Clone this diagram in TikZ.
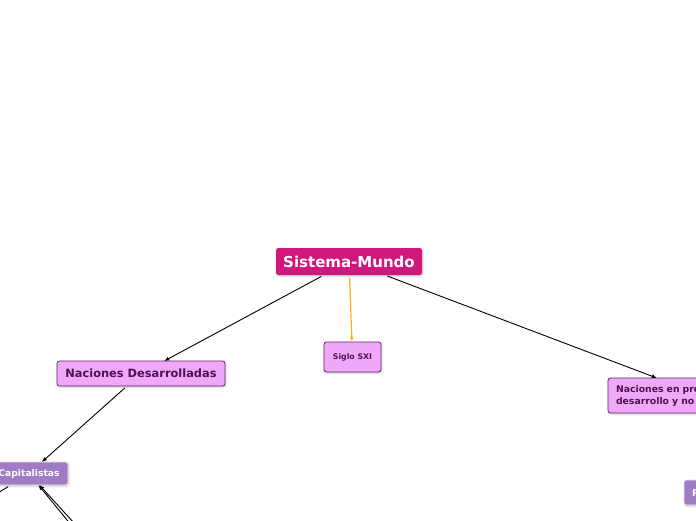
\documentclass[tikz,border=0pt]{standalone}
\usepackage{fontspec}
\setmainfont{DejaVu Sans}
\usetikzlibrary{arrows.meta,shadows.blur,positioning}
\definecolor{magentaSM}{RGB}{208,24,124}
\definecolor{rosaNodo}{RGB}{240,168,250}
\definecolor{bordeNodo}{RGB}{104,36,104}
\definecolor{textoNodo}{RGB}{78,18,78}
\definecolor{moradoNodo}{RGB}{160,124,196}
\definecolor{naranjaLinea}{RGB}{250,180,20}
\tikzset{
  caja/.style={rounded corners=2.5pt,outer sep=0pt,inner sep=0pt,
    blur shadow={shadow xshift=0.8pt,shadow yshift=-1pt,shadow blur steps=3,shadow opacity=25}},
  raiz/.style={caja,fill=magentaSM,text=white,font=\bfseries\fontsize{15}{17}\selectfont,
    minimum width=146pt,minimum height=27pt},
  rama/.style={caja,fill=rosaNodo,draw=bordeNodo,line width=0.8pt,text=textoNodo},
  hoja/.style={caja,fill=moradoNodo,draw=white!85!moradoNodo,line width=0.6pt,text=white,
    font=\bfseries\fontsize{9.2}{11}\selectfont,minimum height=23pt},
  flecha/.style={line width=0.9pt,-{Latex[length=5pt,width=4pt]},shorten <=3pt}
}
\begin{document}
\begin{tikzpicture}[x=1pt,y=-1pt]
  \path[use as bounding box,clip] (0,0) rectangle (696,520);
  % nodos
  \node[raiz] (SM) at (349,261.5) {Sistema-Mundo};
  \node[rama,font=\bfseries\fontsize{7.8}{9}\selectfont,minimum width=57pt,minimum height=30pt]
    (SXI) at (352.5,357) {Siglo SXI};
  \node[rama,font=\bfseries\fontsize{11.4}{13}\selectfont,minimum width=168pt,minimum height=25pt]
    (ND) at (141,373.5) {Naciones Desarrolladas};
  \node[rama,font=\bfseries\fontsize{9.3}{12}\selectfont,minimum width=190pt,minimum height=35pt,
    text width=174pt,align=left] (NPD) at (703,395.5)
    {Naciones en proceso de\\desarrollo y no desarrolladas};
  \node[hoja,minimum width=78pt] (CAP) at (29,473.5) {Capitalistas};
  \node[hoja,anchor=north west,minimum height=25pt,inner xsep=8pt,text width=64pt,align=left]
    (PER) at (684,480) {Periféricas};
  % extremos fuera del cuadro
  \coordinate (h1) at (104,556);
  \coordinate (h2) at (99,559);
  \coordinate (h3) at (-45,520);
  % conexiones
  \draw[flecha] (SM) -- (ND);
  \draw[flecha,naranjaLinea,line width=1.2pt] (SM) -- (SXI);
  \draw[flecha] (SM) -- (NPD);
  \draw[flecha] (ND) -- (CAP);
  \draw[flecha] (h1) -- (CAP);
  \draw[flecha] (h2) -- (CAP);
  \draw[line width=0.9pt,shorten <=3pt] (CAP) -- (h3);
\end{tikzpicture}
\end{document}
